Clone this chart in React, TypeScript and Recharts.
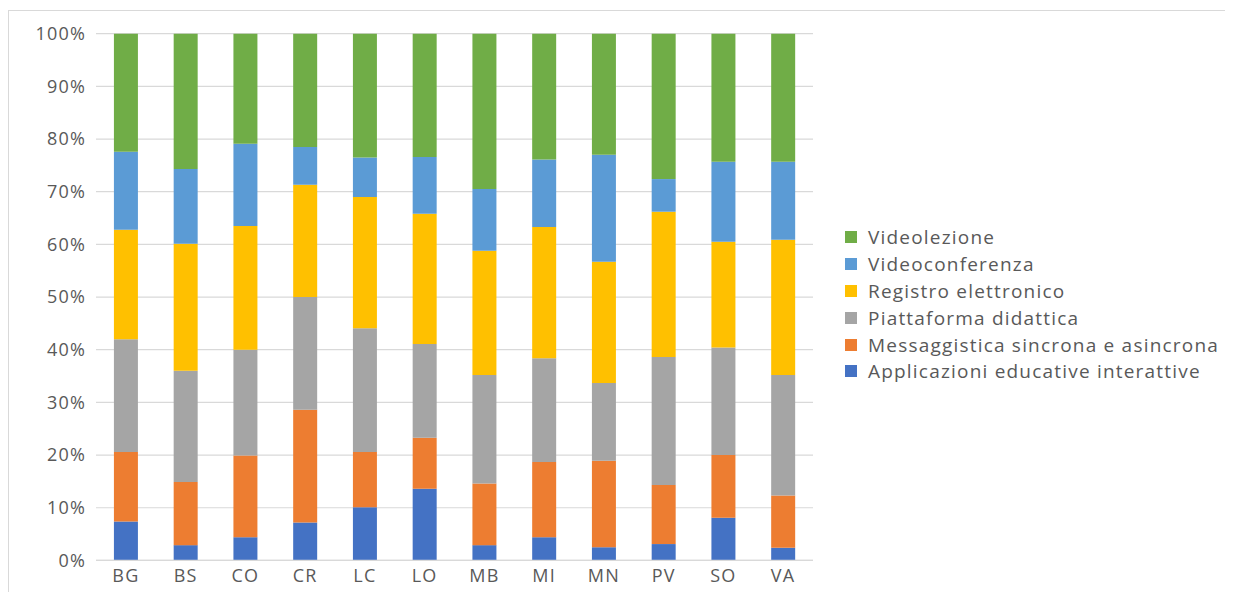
import React from "react";
import { BarChart, Bar, XAxis, YAxis, CartesianGrid } from "recharts";

const categories = ["BG", "BS", "CO", "CR", "LC", "LO", "MB", "MI", "MN", "PV", "SO", "VA"];

// values in % per provincia, bottom to top of the stack
const applicazioni = [7.4, 2.9, 4.4, 7.2, 10.1, 13.6, 2.9, 4.4, 2.5, 3.1, 8.1, 2.4];
const messaggistica = [13.2, 12.0, 15.5, 21.4, 10.5, 9.7, 11.7, 14.3, 16.4, 11.2, 11.9, 9.9];
const piattaforma = [21.4, 21.1, 20.1, 21.4, 23.5, 17.8, 20.6, 19.7, 14.8, 24.3, 20.4, 22.9];
const registro = [20.8, 24.1, 23.5, 21.3, 24.9, 24.7, 23.6, 24.9, 23.0, 27.6, 20.1, 25.7];
const videoconferenza = [14.8, 14.2, 15.6, 7.2, 7.5, 10.8, 11.7, 12.8, 20.3, 6.2, 15.2, 14.8];
const videolezione = [22.4, 25.7, 20.9, 21.5, 23.5, 23.4, 29.5, 23.9, 23.0, 27.6, 24.3, 24.3];

const yTicks = [0, 0.1, 0.2, 0.3, 0.4, 0.5, 0.6, 0.7, 0.8, 0.9, 1];

const series = [
    { key: "applicazioni", name: "Applicazioni educative interattive", color: "#4472C4", values: applicazioni },
    { key: "messaggistica", name: "Messaggistica sincrona e asincrona", color: "#ED7D31", values: messaggistica },
    { key: "piattaforma", name: "Piattaforma didattica", color: "#A5A5A5", values: piattaforma },
    { key: "registro", name: "Registro elettronico", color: "#FFC000", values: registro },
    { key: "videoconferenza", name: "Videoconferenza", color: "#5B9BD5", values: videoconferenza },
    { key: "videolezione", name: "Videolezione", color: "#70AD47", values: videolezione },
];

const data = categories.map((cat, i) => {
    const row: { [k: string]: string | number } = { name: cat };
    series.forEach((s) => {
        row[s.key] = s.values[i];
    });
    return row;
});

const FONT = "'Open Sans', 'Liberation Sans', sans-serif";
const TEXT = "#595959";

// legend is listed top-down, reverse of the stack
const CustomLegend = () => (
    <div
        style={{
            position: "absolute",
            left: 836,
            top: 213,
            fontFamily: FONT,
            fontSize: 19,
            letterSpacing: 1.2,
            color: TEXT,
        }}
    >
        {[...series].reverse().map((s) => (
            <div key={s.key} style={{ display: "flex", alignItems: "center", height: 26.8, whiteSpace: "nowrap" }}>
                <span style={{ width: 12, height: 12, background: s.color, marginRight: 11, display: "inline-block" }}></span>
                {s.name}
            </div>
        ))}
    </div>
);

const App: React.FC = () => {
    return (
        <div
            style={{
                position: "relative",
                marginTop: 2,
                width: 1222,
                height: 600,
                border: "1px solid #d9d9d9",
                boxSizing: "border-box",
                background: "#fff",
            }}
        >
            <BarChart
                width={1220}
                height={598}
                data={data}
                stackOffset="expand"
                barCategoryGap="30%"
                margin={{ top: 22.7, right: 416, left: 27, bottom: 18.6 }}
            >
                <CartesianGrid vertical={false} stroke="#d9d9d9" strokeWidth={1.2} />
                <XAxis
                    dataKey="name"
                    tickLine={false}
                    axisLine={{ stroke: "#d9d9d9", strokeWidth: 1.2 }}
                    tickSize={0}
                    tickMargin={9}
                    height={30}
                    tick={{ fill: TEXT, fontSize: 18, fontFamily: FONT, letterSpacing: 1.2 }}
                />
                <YAxis
                    domain={[0, 1]}
                    ticks={yTicks}
                    tickFormatter={(v: number) => `${Math.round(v * 100)}%`}
                    axisLine={false}
                    tickLine={false}
                    tickSize={0}
                    tickMargin={10}
                    width={60}
                    tick={{ fill: TEXT, fontSize: 18, fontFamily: FONT, letterSpacing: 1.2 }}
                />
                {series.map((s) => (
                    <Bar
                        key={s.key}
                        dataKey={s.key}
                        name={s.name}
                        stackId="a"
                        fill={s.color}
                        isAnimationActive={false}
                    />
                ))}
            </BarChart>
            <CustomLegend />
        </div>
    );
};

export default App;
